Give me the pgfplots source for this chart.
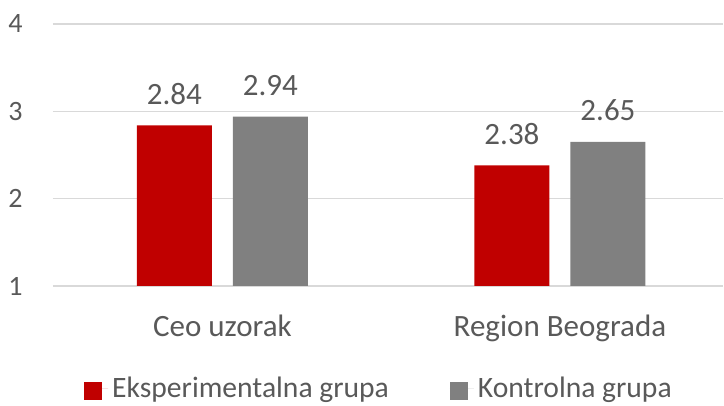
\documentclass[border=0pt]{standalone}
\usepackage{fontspec}
\setmainfont{Carlito}
\usepackage{pgfplots}
\pgfplotsset{compat=1.18}
\definecolor{barred}{HTML}{C00000}
\definecolor{bargray}{HTML}{808080}
\definecolor{txt}{HTML}{595959}
\definecolor{gridc}{HTML}{D9D9D9}
\begin{document}
\begin{tikzpicture}
\useasboundingbox (-26.5pt,-60pt) rectangle (335.5pt,143pt);
\begin{axis}[
  at={(0,0)}, anchor=south west,
  scale only axis, width=335pt, height=131pt,
  ymin=1, ymax=4, ytick={1,2,3,4},
  xmin=-0.502, xmax=1.483, xtick={0,1},
  xticklabels={Ceo uzorak, Region Beograda},
  ybar=10.5pt, bar width=37.5pt,
  axis line style={draw=none},
  major tick length=0pt,
  ymajorgrids, grid style={draw=gridc, line width=0.7pt},
  /pgf/number format/assume math mode=true,
  tick label style={text=txt},
  yticklabel style={anchor=east, inner sep=0pt, xshift=-15pt, font=\fontsize{14}{16}\selectfont},
  xticklabel style={anchor=base, inner sep=0pt, yshift=-25.5pt, font=\fontsize{15.5}{18}\selectfont},
  nodes near coords,
  nodes near coords style={anchor=base, inner sep=0pt, yshift=10.5pt, text=txt,
     font=\fontsize{15.5}{18}\selectfont,
     /pgf/number format/.cd, fixed, precision=2, fixed zerofill},
  legend columns=2,
  legend style={draw=none, fill=none, at={(0.488,0)}, anchor=center, yshift=-51.5pt,
     font=\fontsize{14.8}{17}\selectfont, text=txt, inner sep=0pt,
     /tikz/every even column/.append style={column sep=28.5pt}},
]
\addplot[fill=barred, draw=none,
  legend image code/.code={\fill[barred] (0pt,-5.4pt) rectangle (9pt,3.6pt); \path (0pt,0pt) -- (12pt,0pt);}]
  coordinates {(0,2.84) (1,2.38)};
\addplot[fill=bargray, draw=none,
  legend image code/.code={\fill[bargray] (0pt,-5.4pt) rectangle (9pt,3.6pt); \path (0pt,0pt) -- (12pt,0pt);}]
  coordinates {(0,2.94) (1,2.65)};
\legend{Eksperimentalna grupa, Kontrolna grupa}
\end{axis}
\end{tikzpicture}
\end{document}
